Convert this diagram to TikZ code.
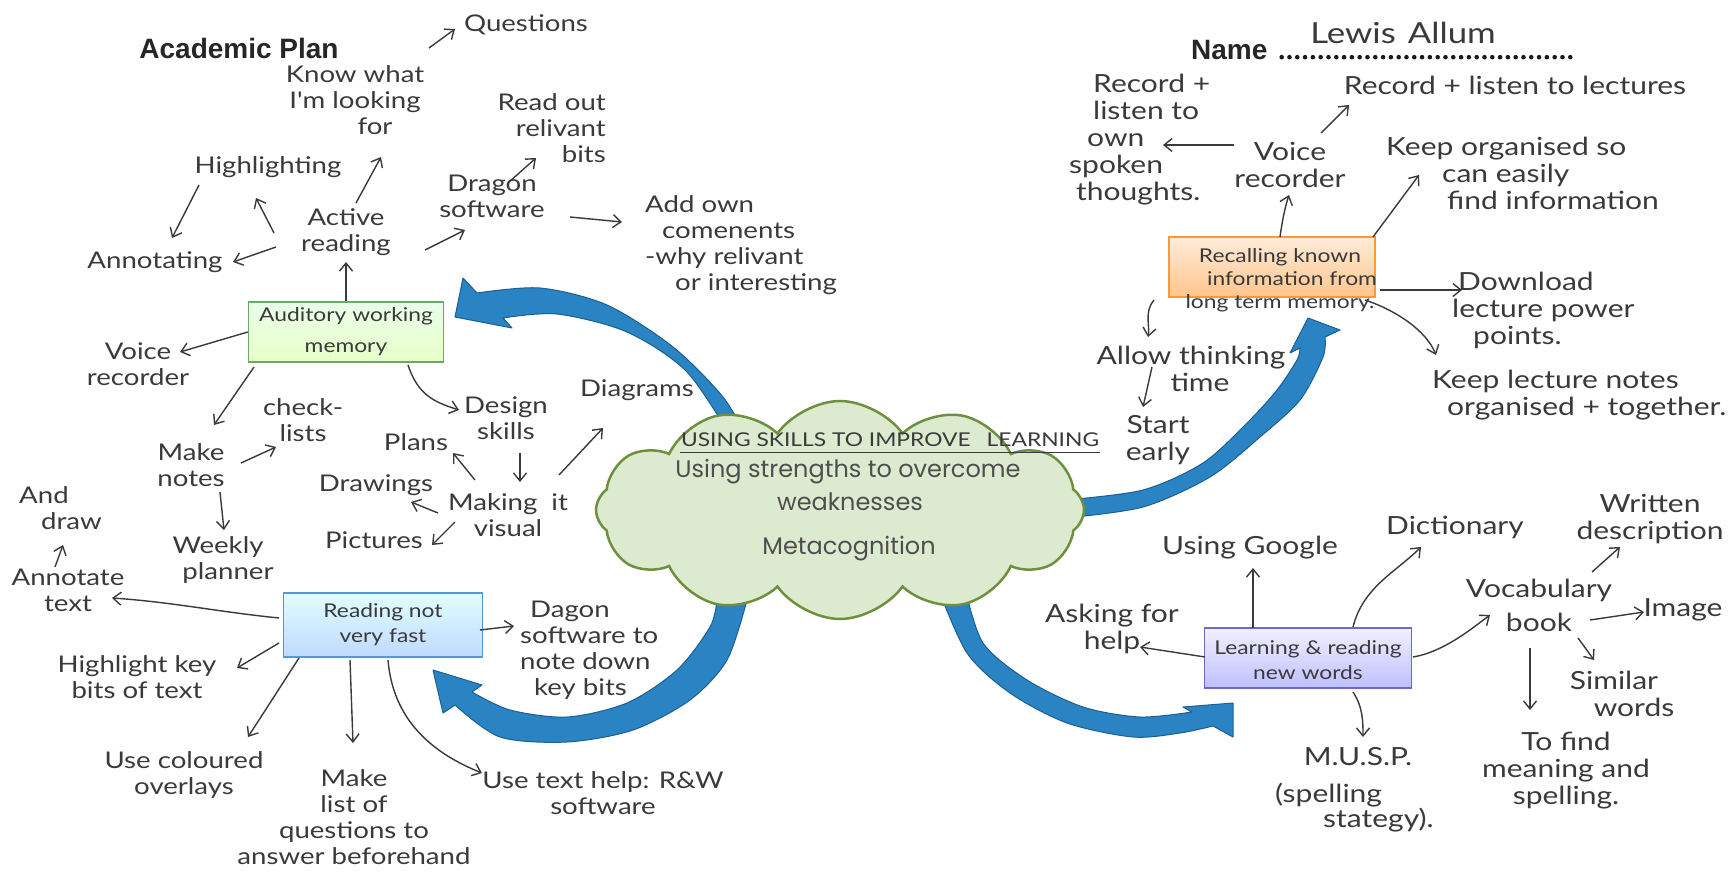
\documentclass[tikz,border=0pt]{standalone}
\usepackage{fontspec}
\setmainfont{Liberation Sans}
\newfontfamily\hand[FakeStretch=1.2]{Lato}
\newfontfamily\gothic{Poppins}
\usetikzlibrary{arrows.meta,shapes.symbols}
\definecolor{ink}{HTML}{3A3A3A}
\definecolor{arrowblue}{HTML}{2A84C4}
\definecolor{arrowedge}{HTML}{1B5F91}
\definecolor{cloudfill}{HTML}{DCEBD0}
\definecolor{cloudedge}{HTML}{6E8F3E}
\tikzset{
  hw/.style={font=\hand\fontsize{23}{26}\selectfont, text=ink, align=center, inner sep=2},
  hwr/.style={hw, font=\hand\fontsize{25}{27}\selectfont},
  boxtext/.style={font=\hand\fontsize{19}{25}\selectfont, text=ink, align=center},
  topicbox/.style={draw, line width=1.5, inner sep=0, minimum width=#1, minimum height=60},
  arr/.style={draw=ink, line width=1.4, -{Straight Barb[length=8,width=13]}},
  blarrow/.style={fill=arrowblue, draw=arrowedge, line width=1, line join=round},
  heading/.style={font=\bfseries\fontsize{28}{30}\selectfont, text=black!85},
}
\begin{document}
\begin{tikzpicture}[x=1pt,y=-1pt]
\useasboundingbox (0,0) rectangle (1730,880);
\fill[white] (0,0) rectangle (1730,880);

% ---- curved blue arrows leaving the central cloud ----
\filldraw[blarrow] (455,317) -- (463,278) -- plot[smooth] coordinates {(477,293) (540,288) (607,305) (673,347) (723,397) (748,440)}
  -- (734,442) -- plot[smooth] coordinates {(734,442) (687,372) (627,332) (557,314) (503,318)} -- (512,328) -- cycle;
\filldraw[blarrow] (433,670) -- (482,685) -- plot[smooth] coordinates {(472,692) (510,710) (567,717) (627,703) (677,670) (710,627) (717,600)}
  -- (747,600) -- plot[smooth] coordinates {(747,600) (727,660) (690,700) (633,730) (567,742) (500,737) (455,705)} -- (443,713) -- cycle;
\filldraw[blarrow] (1308,318) -- (1340,330) -- plot[smooth] coordinates {(1325,337) (1323,357) (1300,400) (1260,437) (1210,477) (1143,507) (1065,518)}
  -- (1065,500) -- plot[smooth] coordinates {(1065,500) (1143,490) (1203,463) (1247,423) (1277,390) (1297,360) (1300,348)} -- (1290,353) -- cycle;
\filldraw[blarrow] (1233,703) -- (1183,707) -- plot[smooth] coordinates {(1192,712) (1140,717) (1083,707) (1027,680) (983,643) (965,588)}
  -- (938,588) -- plot[smooth] coordinates {(938,588) (967,653) (1010,693) (1067,723) (1133,737) (1180,733) (1213,726)} -- (1233,737) -- cycle;

% ---- central cloud ----
\node[cloud, cloud puffs=12, cloud puff arc=110, cloud ignores aspect, minimum width=488, minimum height=218,
      draw=cloudedge, line width=2.5, fill=cloudfill] (cloud) at (840,510) {};
\node[font=\hand\fontsize{19}{22}\selectfont, text=ink, inner sep=1] (theme) at (890,440) {USING SKILLS TO IMPROVE\hspace{16pt}LEARNING};
\draw[ink, line width=1.2] ([yshift=-4pt]theme.south west) -- ([yshift=-4pt]theme.south east);
\node[font=\gothic\fontsize{24}{28}\selectfont, text=ink!90] (strengths) at (848,472) {Using strengths to overcome};
\node[font=\gothic\fontsize{24}{28}\selectfont, text=ink!90] (weak) at (850,502) {weaknesses};
\node[font=\gothic\fontsize{24}{28}\selectfont, text=ink!90] (meta) at (849,549) {Metacognition};

% ---- headings ----
\node[heading] (acad) at (239,48) {Academic Plan};
\node[heading, anchor=west, inner sep=0] (name) at (1191,50) {Name};
\draw[black!90, line width=4.6, line cap=round, dash pattern=on 0pt off 7.8pt]
  ([xshift=14pt, yshift=2.3pt]name.base east) -- ([xshift=310pt, yshift=2.3pt]name.base east);
\node[hw, font=\hand\fontsize{29}{31}\selectfont, inner sep=0] (lewis) at (1403,33) {Lewis\hspace{12pt}Allum};

% ---- topic boxes ----
\node[topicbox=195, draw=green!45!black!60, top color=green!8, bottom color=green!45!yellow!22] (aud) at (346,332) {};
\node[boxtext, font=\hand\fontsize{19}{31}\selectfont] (audtext) at (346,332) {Auditory working\\memory};
\node[topicbox=199, minimum height=64, draw=cyan!60!blue!70, top color=cyan!12, bottom color=cyan!40!blue!25] (readbox) at (383,625) {};
\node[boxtext] (readtext) at (383,625) {Reading not\\very fast};
\node[topicbox=206, draw=orange!80, top color=orange!15, bottom color=orange!45] (recall) at (1272,267) {};
\node[boxtext, font=\hand\fontsize{19}{23}\selectfont] (recalltext) at (1280,280) {Recalling known\\\hspace*{24pt}information from\\long term memory.};
\node[topicbox=207, draw=blue!45!gray!80, top color=blue!6, bottom color=blue!25] (learn) at (1308,658) {};
\node[boxtext] (learntext) at (1308,660) {Learning \& reading\\new words};

% ---- auditory working memory branch ----
\node[hw] (questions) at (526,25) {Questions};
\node[hw] (know) at (355,100) {Know what\\I'm looking\\\hspace*{40pt}for};
\node[hw] (highl) at (268,167) {Highlighting};
\node[hw] (active) at (346,232) {Active\\reading};
\node[hw] (annot) at (155,262) {Annotating};
\node[hw] (dragon) at (492,196) {Dragon\\software};
\node[hw, align=right, anchor=east] (readout) at (608,128) {Read out\\relivant\\bits};
\node[hw, align=left, anchor=west] (addown) at (643,245) {Add own\\\hspace*{17pt}comenents\\-why relivant\\\hspace*{30pt}or interesting};
\node[hw] (voicel) at (138,364) {Voice\\recorder};
\node[hw] (make) at (191,465) {Make\\notes};
\node[hw] (check) at (303,420) {check-\\lists};
\node[hw] (weekly) at (218,560) {Weekly\\\hspace*{20pt}planner};
\node[hw] (design) at (506,418) {Design\\skills};
\node[hw] (plans) at (416,442) {Plans};
\node[hw] (drawings) at (376,485) {Drawings};
\node[hw] (making) at (508,515) {Making\hspace{14pt}it\\visual};
\node[hw] (pictures) at (374,540) {Pictures};
\node[hw] (diagrams) at (637,390) {Diagrams};

% ---- reading branch ----
\node[hw, align=left, anchor=west] (anddraw) at (17,508) {And\\\hspace*{22pt}draw};
\node[hw] (annottext) at (68,590) {Annotate\\text};
\node[hw] (highkey) at (137,677) {Highlight key\\bits of text};
\node[hw] (usecol) at (184,775) {Use coloured\\overlays};
\node[hw] (makelist) at (354,817) {Make\\list of\\questions to\\answer beforehand};
\node[hw] (usetext) at (603,793) {Use text help: R\&W\\software};
\node[hw, align=left, anchor=west] (dagon) at (518,650) {\hspace*{10pt}Dagon\\software to\\note down\\\hspace*{14pt}key bits};

% ---- recalling branch ----
\node[hwr, align=left, anchor=west] (recown) at (1067,140) {\hspace*{24pt}Record +\\\hspace*{24pt}listen to\\\hspace*{18pt}own\\spoken\\\hspace*{7pt}thoughts.};
\node[hwr] (voicer) at (1290,165) {Voice\\recorder};
\node[hwr] (reclect) at (1515,85) {Record + listen to lectures};
\node[hwr, align=left, anchor=west] (keeporg) at (1384,173) {Keep organised so\\\hspace*{56pt}can easily\\\hspace*{61pt}find information};
\node[hwr, align=left, anchor=west] (download) at (1450,310) {\hspace*{6pt}Download\\lecture power\\\hspace*{21pt}points.};
\node[hwr, align=left, anchor=west] (keeplect) at (1430,395) {Keep lecture notes\\\hspace*{15pt}organised + together.};
\node[hwr] (allow) at (1191,369) {Allow thinking\\\hspace*{18pt}time};
\node[hwr] (start) at (1158,440) {Start\\early};

% ---- new words branch ----
\node[hwr] (google) at (1250,548) {Using Google};
\node[hwr] (dictionary) at (1455,527) {Dictionary};
\node[hwr] (written) at (1650,519) {Written\\description};
\node[hwr] (asking) at (1112,629) {Asking for\\help};
\node[hwr, font=\hand\fontsize{25}{34}\selectfont] (vocab) at (1539,605) {Vocabulary\\book};
\node[hwr] (image) at (1683,610) {Image};
\node[hwr] (similar) at (1614,694) {Similar\\\hspace*{40pt}words};
\node[hwr] (tofind) at (1566,771) {To find\\meaning and\\spelling.};
\node[hwr] (musp) at (1358,757) {M.U.S.P.};
\node[hwr, align=left, anchor=west, font=\hand\fontsize{25}{21}\selectfont] (muspnote) at (1273,808) {(spelling\\\hspace*{48pt}stategy).};

% ---- connectors: auditory working memory ----
\draw[arr] ([shift={(74,-52)}]know.center) -- ([shift={(-71,4)}]questions.center);
\draw[arr] ([shift={(10,-29)}]active.center) -- ([shift={(26,57)}]know.center);
\draw[arr] ([shift={(-72,1)}]active.center) -- ([shift={(-12,31)}]highl.center);
\draw[arr] ([shift={(-69,18)}]highl.center) -- ([shift={(17,-24)}]annot.center);
\draw[arr] ([shift={(-70,15)}]active.center) -- ([shift={(78,0)}]annot.center);
\draw[arr] ([shift={(79,18)}]active.center) -- ([shift={(-27,34)}]dragon.center);
\draw[arr] ([shift={(17,-14)}]dragon.center) -- ([shift={(-72,30)}]readout.east);
\draw[arr] ([shift={(78,21)}]dragon.center) -- ([shift={(-21,-23)}]addown.west);
\draw[arr] (aud.north) -- ([shift={(0,30)}]active.center);
\draw[arr] (aud.west) -- ([shift={(42,-12)}]voicel.center);
\draw[arr] ([shift={(-92,35)}]aud.center) -- ([shift={(23,-40)}]make.center);
\draw[arr] ([shift={(50,-2)}]make.center) -- ([shift={(-27,27)}]check.center);
\draw[arr] ([shift={(29,27)}]make.center) -- ([shift={(6,-30)}]weekly.center);
\draw[arr] ([shift={(62,33)}]aud.center) .. controls +(10,30) and +(-25,-8) .. ([shift={(-47,-8)}]design.center);
\draw[arr] ([shift={(-33,-35)}]making.center) -- ([shift={(37,11)}]plans.center);
\draw[arr] ([shift={(14,35)}]design.center) -- ([shift={(12,-33)}]making.center);
\draw[arr] ([shift={(-70,-2)}]making.center) -- ([shift={(35,17)}]drawings.center);
\draw[arr] ([shift={(-53,7)}]making.center) -- ([shift={(58,5)}]pictures.center);
\draw[arr] ([shift={(51,-40)}]making.center) -- ([shift={(-34,38)}]diagrams.center);

% ---- connectors: reading ----
\draw[arr] ([shift={(-104,-7)}]readbox.center) .. controls +(-60,-6) and +(60,4) .. ([shift={(44,8)}]annottext.center);
\draw[arr] ([shift={(-104,18)}]readbox.center) -- ([shift={(100,-9)}]highkey.center);
\draw[arr] ([shift={(-84,33)}]readbox.center) -- ([shift={(64,-38)}]usecol.center);
\draw[arr] ([shift={(-33,35)}]readbox.center) -- ([shift={(-1,-74)}]makelist.center);
\draw[arr] ([shift={(5,35)}]readbox.center) .. controls +(5,60) and +(-50,-20) .. ([shift={(-121,-20)}]usetext.center);
\draw[arr] ([shift={(97,5)}]readbox.center) -- ([shift={(-4,-24)}]dagon.west);
\draw[arr] ([shift={(-13,-23)}]annottext.center) -- ([shift={(46,37)}]anddraw.west);

% ---- connectors: recalling ----
\draw[arr] ([shift={(8,-30)}]recall.center) .. controls +(2,-15) and +(-4,12) .. ([shift={(-1,30)}]voicer.center);
\draw[arr] ([shift={(-56,-20)}]voicer.center) -- ([shift={(96,5)}]recown.west);
\draw[arr] ([shift={(31,-32)}]voicer.center) -- ([shift={(-166,20)}]reclect.center);
\draw[arr] ([shift={(101,-30)}]recall.center) -- ([shift={(35,2)}]keeporg.west);
\draw[arr] ([shift={(108,23)}]recall.center) -- ([shift={(12,-20)}]download.west);
\draw[arr] ([shift={(93,33)}]recall.center) .. controls +(30,10) and +(-10,-25) .. ([shift={(6,-40)}]keeplect.west);
\draw[arr] ([shift={(-118,33)}]recall.center) .. controls +(-10,12) and +(2,-12) .. ([shift={(-43,-32)}]allow.center);
\draw[arr] ([shift={(-39,-2)}]allow.center) -- ([shift={(-15,-33)}]start.center);

% ---- connectors: new words ----
\draw[arr] ([shift={(-103,-1)}]learn.center) -- ([shift={(28,18)}]asking.center);
\draw[arr] ([shift={(-55,-30)}]learn.center) -- ([shift={(3,20)}]google.center);
\draw[arr] ([shift={(45,-31)}]learn.center) .. controls +(10,-40) and +(-25,25) .. ([shift={(-34,20)}]dictionary.center);
\draw[arr] ([shift={(105,-1)}]learn.center) .. controls +(30,-5) and +(-20,15) .. ([shift={(-49,10)}]vocab.center);
\draw[arr] ([shift={(53,-33)}]vocab.center) -- ([shift={(-30,28)}]written.center);
\draw[arr] ([shift={(51,15)}]vocab.center) -- ([shift={(-39,2)}]image.center);
\draw[arr] ([shift={(39,33)}]vocab.center) -- ([shift={(-20,-34)}]similar.center);
\draw[arr] ([shift={(-9,43)}]vocab.center) -- ([shift={(-36,-61)}]tofind.center);
\draw[arr] ([shift={(45,34)}]learn.center) .. controls +(10,15) and +(0,-15) .. ([shift={(5,-20)}]musp.center);
\end{tikzpicture}
\end{document}
